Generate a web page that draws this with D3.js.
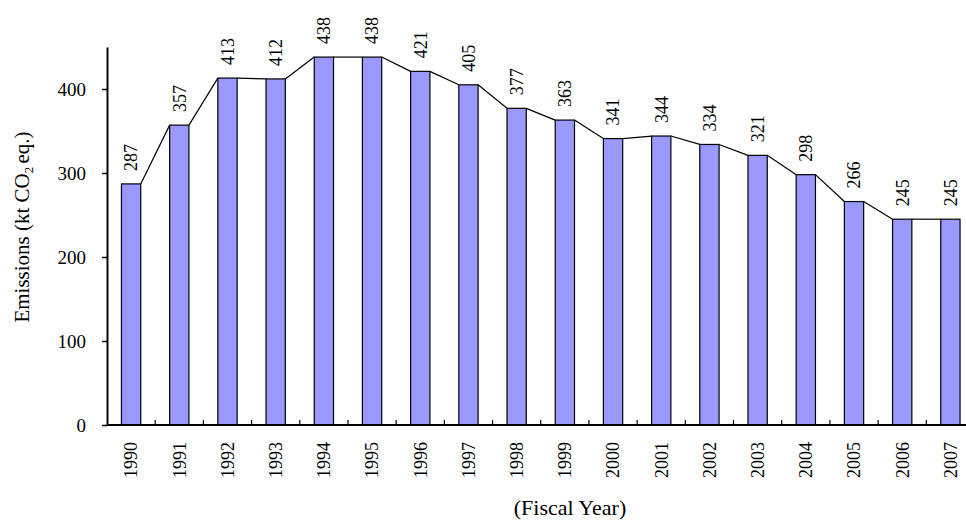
<!DOCTYPE html>
<html>
<head>
<meta charset="utf-8">
<script src="https://cdnjs.cloudflare.com/ajax/libs/d3/7.8.5/d3.min.js"></script>
<style>
  body { margin: 0; background: #fff; }
  svg { display: block; font-family: "Liberation Serif", "Times New Roman", serif; }
</style>
</head>
<body>
<div id="chart"></div>
<script>
'use strict';
var years = ['1990', '1991', '1992', '1993', '1994', '1995', '1996', '1997', '1998',
    '1999', '2000', '2001', '2002', '2003', '2004', '2005', '2006', '2007'];
var emissions = [287, 357, 413, 412, 438, 438, 421, 405, 377, 363, 341, 344, 334, 321, 298, 266, 245, 245];
var yTicks = [0, 100, 200, 300, 400];

var width = 966,
    height = 520;
var plotLeft = 107, plotRight = 974.5, plotTop = 47, plotBottom = 425;

var svg = d3.select('#chart').append('svg')
    .attr('width', width)
    .attr('height', height);

var x = d3.scaleBand().domain(years).range([plotLeft, plotRight]).paddingInner(0.6).paddingOuter(0.3);
var y = d3.scaleLinear().domain([0, 450]).range([plotBottom, plotTop]);

// bars
svg.append('g').selectAll('rect')
    .data(emissions)
    .enter().append('rect')
    .attr('x', function (d, i) { return x(years[i]); })
    .attr('y', function (d) { return y(d); })
    .attr('width', x.bandwidth())
    .attr('height', function (d) { return y(0) - y(d); })
    .attr('fill', '#9999ff')
    .attr('stroke', '#000')
    .attr('stroke-width', 1.2);

// series lines between bar tops
svg.append('g').selectAll('line')
    .data(emissions.slice(1))
    .enter().append('line')
    .attr('x1', function (d, i) { return x(years[i]) + x.bandwidth(); })
    .attr('y1', function (d, i) { return y(emissions[i]); })
    .attr('x2', function (d, i) { return x(years[i + 1]); })
    .attr('y2', function (d) { return y(d); })
    .attr('stroke', '#000')
    .attr('stroke-width', 1.2);

// value labels
svg.append('g').selectAll('text')
    .data(emissions)
    .enter().append('text')
    .attr('transform', function (d, i) {
        return 'translate(' + (x(years[i]) + x.bandwidth() / 2) + ',' + (y(d) - 13) + ') rotate(-90)';
    })
    .attr('dy', '0.35em')
    .attr('font-size', 18)
    .text(function (d) { return d; });

// y axis
var yAxis = svg.append('g')
    .attr('transform', 'translate(' + plotLeft + ',0)')
    .call(d3.axisLeft(y).tickValues(yTicks).tickSize(5).tickPadding(16).tickSizeOuter(0));
yAxis.attr('font-family', null).attr('font-size', null);
yAxis.select('.domain').attr('stroke-width', 2);
yAxis.selectAll('.tick line').attr('stroke-width', 1.5);
yAxis.selectAll('.tick text').attr('font-size', 19);

// x axis
var xAxis = svg.append('g')
    .attr('transform', 'translate(0,' + plotBottom + ')');
xAxis.append('line')
    .attr('x1', plotLeft).attr('x2', plotRight)
    .attr('stroke', '#000').attr('stroke-width', 2);
xAxis.selectAll('line.sep')
    .data(years.slice(1))
    .enter().append('line')
    .attr('class', 'sep')
    .attr('x1', function (d) { return x(d) - x.step() * x.paddingInner() / 2; })
    .attr('x2', function (d) { return x(d) - x.step() * x.paddingInner() / 2; })
    .attr('y1', 0).attr('y2', -5)
    .attr('stroke', '#000').attr('stroke-width', 1.2);
xAxis.selectAll('text')
    .data(years)
    .enter().append('text')
    .attr('transform', function (d) {
        return 'translate(' + (x(d) + x.bandwidth() / 2) + ',17) rotate(-90)';
    })
    .attr('dy', '0.35em')
    .attr('text-anchor', 'end')
    .attr('font-size', 18)
    .text(function (d) { return d; });

// axis titles
var yTitle = svg.append('text')
    .attr('transform', 'translate(22,227) rotate(-90)')
    .attr('text-anchor', 'middle')
    .attr('dy', '0.35em')
    .attr('font-size', 21);
yTitle.append('tspan').text('Emissions (kt CO');
yTitle.append('tspan').attr('font-size', 13).attr('dy', 4).text('2 ');
yTitle.append('tspan').attr('dy', -4).text('eq.)');

svg.append('text')
    .attr('x', 570)
    .attr('y', 515)
    .attr('text-anchor', 'middle')
    .attr('font-size', 22)
    .text('(Fiscal Year)');
</script>
</body>
</html>
